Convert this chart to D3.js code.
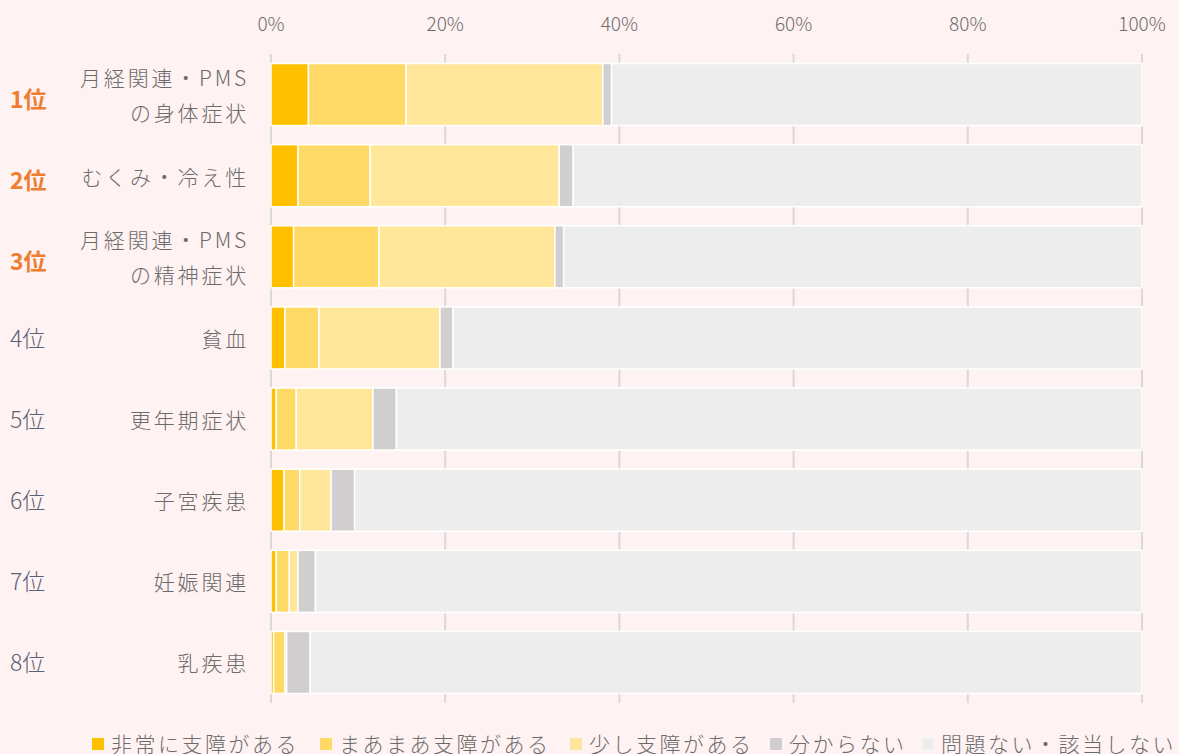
<!DOCTYPE html>
<html>
<head>
<meta charset="utf-8">
<script src="https://cdn.jsdelivr.net/npm/d3@7"></script>
<style>
  body { margin: 0; background: #FFF2F2; }
  svg { display: block; font-family: "Noto Sans CJK JP", "Noto Sans", sans-serif; }
</style>
</head>
<body>
<div id="chart"></div>
<script>
// categories (top to bottom) and their rank labels
const ranks = ["1位", "2位", "3位", "4位", "5位", "6位", "7位", "8位"];
const categories = [
    ["月経関連・PMS", "の身体症状"],
    ["むくみ・冷え性"],
    ["月経関連・PMS", "の精神症状"],
    ["貧血"],
    ["更年期症状"],
    ["子宮疾患"],
    ["妊娠関連"],
    ["乳疾患"]
];
const seriesNames = ["非常に支障がある", "まあまあ支障がある", "少し支障がある", "分からない", "問題ない・該当しない"];

// percentage values per series (same order as categories)
const severe   = [4.3, 3.1, 2.6, 1.6, 0.6, 1.5, 0.6, 0.3];
const moderate = [11.2, 8.3, 9.8, 3.9, 2.3, 1.8, 1.5, 1.3];
const slight   = [22.6, 21.7, 20.2, 13.9, 8.8, 3.6, 1.0, 0.2];
const unknown  = [1.0, 1.6, 1.0, 1.5, 2.7, 2.7, 2.0, 2.7];
const noIssue  = [60.9, 65.3, 66.4, 79.1, 85.6, 90.4, 94.9, 95.5];

const xTicks = [0, 20, 40, 60, 80, 100];
const colours = ["#FFC000", "#FFD966", "#FFE699", "#D0CECE", "#EDEDED"];

const width = 1179, height = 754;
const margin = { top: 54, right: 37, bottom: 51, left: 271 };

const svg = d3.select("#chart").append("svg")
    .attr("width", width)
    .attr("height", height);

const x = d3.scaleLinear().domain([0, 100]).range([margin.left, width - margin.right]);
const y = d3.scaleBand()
    .domain(d3.range(categories.length))
    .range([margin.top, height - margin.bottom])
    .paddingInner(0.235)
    .paddingOuter(0.117);

// build stack table
const table = categories.map((c, i) => ({
    s0: severe[i], s1: moderate[i], s2: slight[i], s3: unknown[i], s4: noIssue[i]
}));
const keys = ["s0", "s1", "s2", "s3", "s4"];
const stacked = d3.stack().keys(keys)(table);

// gridlines
svg.append("g")
    .selectAll("line")
    .data(xTicks)
    .join("line")
    .attr("x1", d => x(d)).attr("x2", d => x(d))
    .attr("y1", margin.top).attr("y2", height - margin.bottom)
    .attr("stroke", "#D9D9D9")
    .attr("stroke-width", 2);

// top axis labels
svg.append("g")
    .selectAll("text")
    .data(xTicks)
    .join("text")
    .attr("x", d => x(d))
    .attr("y", 22)
    .attr("text-anchor", "middle")
    .attr("dominant-baseline", "central")
    .attr("font-size", 19)
    .attr("font-weight", 300)
    .attr("fill", "#6E6E6E")
    .text(d => d + "%");

// bars
svg.append("g")
    .selectAll("g")
    .data(stacked)
    .join("g")
    .attr("fill", (d, i) => colours[i])
    .selectAll("rect")
    .data(d => d)
    .join("rect")
    .attr("x", d => x(d[0]))
    .attr("width", d => Math.max(0, x(d[1]) - x(d[0])))
    .attr("y", (d, i) => y(i))
    .attr("height", y.bandwidth())
    .attr("stroke", "#FFFFFF")
    .attr("stroke-width", 1.5);

// category labels
const labelGroup = svg.append("g");
categories.forEach((lines, i) => {
    const cy = y(i) + y.bandwidth() / 2;
    lines.forEach((line, j) => {
        labelGroup.append("text")
            .attr("x", 249)
            .attr("y", cy + (j - (lines.length - 1) / 2) * 35)
            .attr("text-anchor", "end")
            .attr("dominant-baseline", "central")
            .attr("font-size", 21)
            .attr("font-weight", 300)
            .attr("letter-spacing", 2.8)
            .attr("fill", "#6B6B6B")
            .text(line);
    });
});

// rank labels, top 3 highlighted
svg.append("g")
    .selectAll("text")
    .data(ranks)
    .join("text")
    .attr("x", 10)
    .attr("y", (d, i) => y(i) + y.bandwidth() / 2 + (i < 3 ? 3 : -1))
    .attr("dominant-baseline", "central")
    .attr("font-size", 23)
    .attr("font-weight", (d, i) => i < 3 ? "bold" : 300)
    .attr("fill", (d, i) => i < 3 ? "#ED7D31" : "#5A6275")
    .text(d => d);

// legend
const legendX = [92, 320, 570, 770, 922];
const legend = svg.append("g");
seriesNames.forEach((name, i) => {
    legend.append("rect")
        .attr("x", legendX[i])
        .attr("y", 738)
        .attr("width", 12)
        .attr("height", 12)
        .attr("fill", colours[i]);
    legend.append("text")
        .attr("x", legendX[i] + 19)
        .attr("y", 743)
        .attr("dominant-baseline", "central")
        .attr("font-size", 21)
        .attr("font-weight", 300)
        .attr("letter-spacing", 2.5)
        .attr("fill", "#6B6B6B")
        .text(name);
});
</script>
</body>
</html>
